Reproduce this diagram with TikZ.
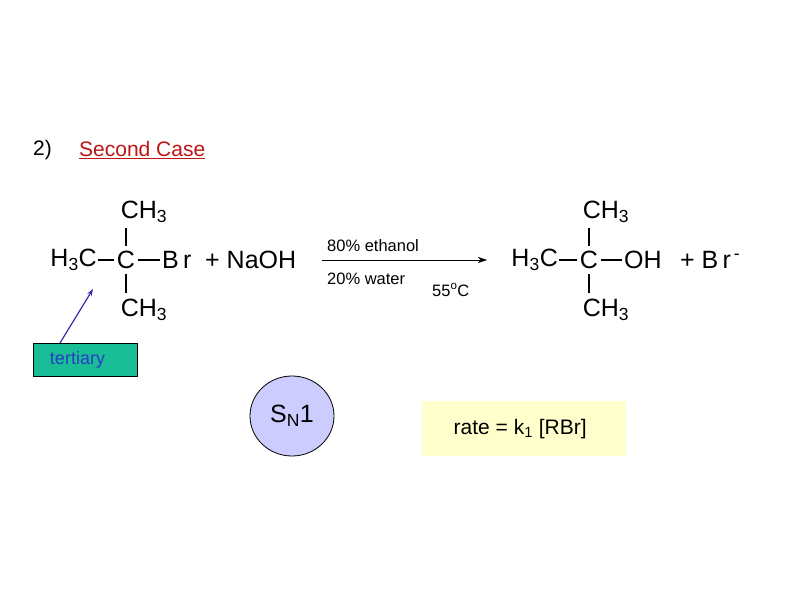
\documentclass[tikz,border=0pt]{standalone}
\usepackage{fontspec}
\setmainfont{Liberation Sans}
\usetikzlibrary{arrows.meta,shapes.geometric}
\definecolor{tealbox}{RGB}{26,190,150}
\definecolor{tertblue}{RGB}{40,60,200}
\definecolor{arrblue}{RGB}{60,40,170}
\definecolor{lav}{RGB}{204,204,255}
\definecolor{lyel}{RGB}{255,255,204}
\definecolor{dred}{RGB}{190,20,20}
\begin{document}
\begin{tikzpicture}[x=1pt,y=-1pt,
  chem/.style={inner sep=0pt,font=\fontsize{25}{25}\selectfont},
  bond/.style={line width=1.8pt},
  small/.style={inner sep=0pt,font=\fontsize{16.5}{16.5}\selectfont},
  lbl/.style={inner sep=0pt,font=\fontsize{21}{21}\selectfont}]
\useasboundingbox (0,0) rectangle (792,612);
\node[lbl,anchor=west] (n2) at (33,150) {2)};
\node[lbl,anchor=west,text=dred] (sc) at (79,150) {\underline{Second Case}};
% left molecule
\node[chem] (lc) at (126,260) {C};
\node[chem,anchor=east] (lh) at (97,260) {H\textsubscript{3}C};
\node[chem,anchor=west] (lbr) at (162,260) {B\,r};
\node[chem] (lt) at (144,212) {CH\textsubscript{3}};
\node[chem] (lb) at (144,310) {CH\textsubscript{3}};
\draw[bond] (lh.east) ++(1,0) -- ([xshift=-3pt]lc.west);
\draw[bond] ([xshift=3pt]lc.east) -- ([xshift=-2pt]lbr.west);
\draw[bond] (126,228) -- (126,246);
\draw[bond] (126,274) -- (126,293);
\node[chem,anchor=west] (naoh) at (205,260) {+ NaOH};
\coordinate (a1) at (322,260);
\coordinate (a2) at (487,260);
\draw[-{Stealth[length=9pt,width=6pt]}] (a1) -- (a2);
\node[small,anchor=west] (eth) at (327,246) {80\% ethanol};
\node[small,anchor=west] (wat) at (327,279) {20\% water};
\node[small,anchor=west] (t) at (432,290) {55\textsuperscript{o}C};
% right molecule
\node[chem] (rc) at (589,260) {C};
\node[chem,anchor=east] (rh) at (558,260) {H\textsubscript{3}C};
\node[chem,anchor=west] (roh) at (624,260) {OH};
\node[chem] (rt) at (606,212) {CH\textsubscript{3}};
\node[chem] (rb) at (606,310) {CH\textsubscript{3}};
\draw[bond] (rh.east) ++(1,0) -- ([xshift=-3pt]rc.west);
\draw[bond] ([xshift=3pt]rc.east) -- ([xshift=-2pt]roh.west);
\draw[bond] (589,228) -- (589,246);
\draw[bond] (589,274) -- (589,293);
\node[chem,anchor=west] (br) at (680,260) {+ B\,r\textsuperscript{\,-}};
% tertiary
\node[draw,line width=1pt,fill=tealbox,minimum width=104pt,minimum height=33pt,inner sep=0pt,text=tertblue,font=\fontsize{18}{18}\selectfont,anchor=north west] (ter) at (33,343) {\hspace*{-16pt}tertiary};
\coordinate (tip) at (93,289);
\draw[arrblue,line width=1.2pt,-{Stealth[length=7pt,width=5pt]}] (60,343) -- (tip);
% SN1
\node[draw,line width=0.8pt,ellipse,fill=lav,minimum width=84pt,minimum height=80pt,inner sep=0pt,font=\fontsize{25}{25}\selectfont] (sn) at (292,416) {S\textsubscript{N}1};
% rate
\node[fill=lyel,minimum width=204pt,minimum height=55pt,inner sep=0pt,font=\fontsize{21}{21}\selectfont,anchor=north west] (rate) at (422,401) {\hspace*{-8pt}rate = k\textsubscript{1} [RBr]};
\end{tikzpicture}
\end{document}
